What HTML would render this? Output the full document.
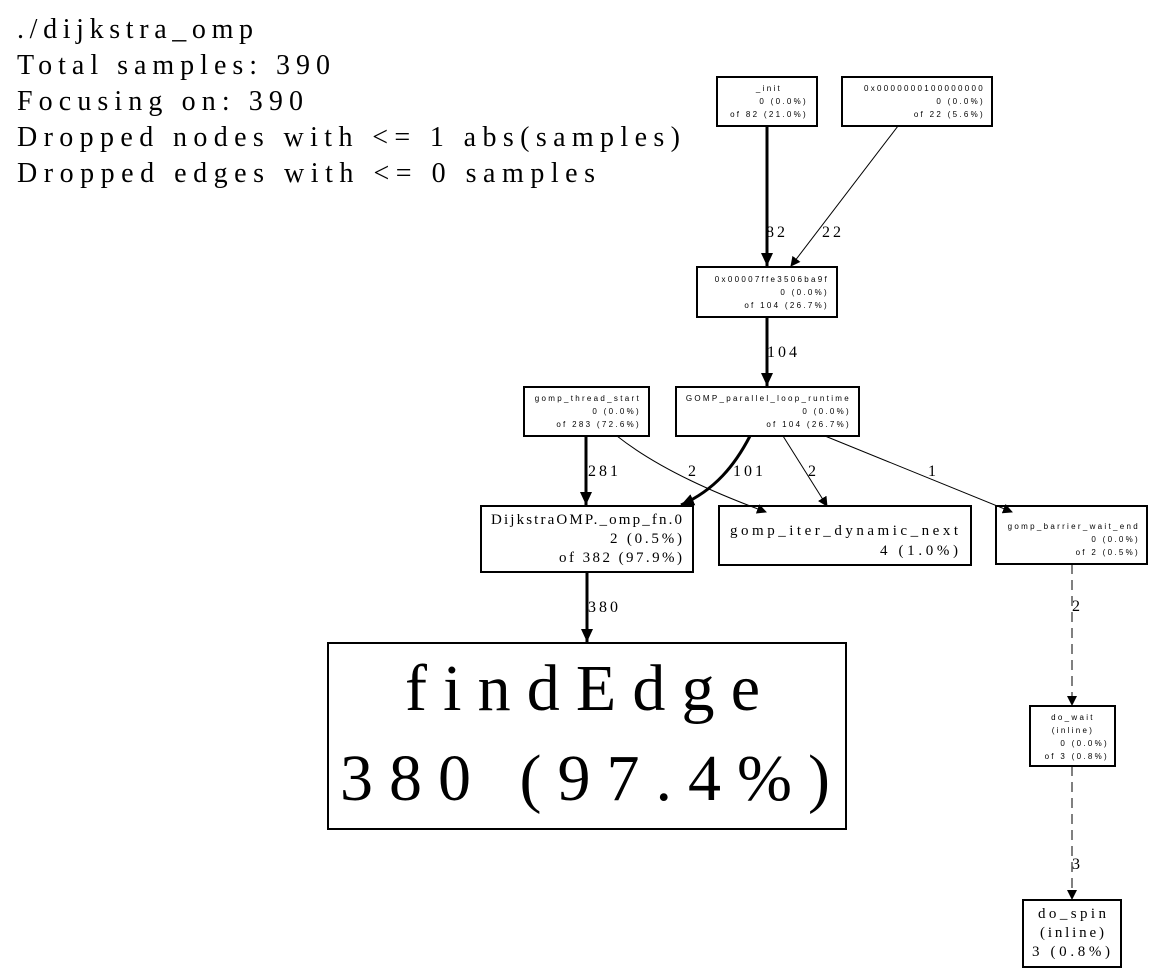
<!DOCTYPE html>
<html><head><style>
html,body{margin:0;padding:0;background:#fff;}
svg{display:block;font-family:"Liberation Serif",serif;}
.s{font-family:"Liberation Sans",sans-serif;font-size:8px;letter-spacing:2.3px;}
</style></head><body>
<svg width="1156" height="975" viewBox="0 0 1156 975" xmlns="http://www.w3.org/2000/svg">
<defs>
<marker id="a" markerWidth="10" markerHeight="10" refX="9" refY="5" orient="auto" markerUnits="userSpaceOnUse"><path d="M0,0 L10,5 L0,10 z" fill="#000"/></marker>
<marker id="b" markerWidth="14" markerHeight="14" refX="13" refY="7" orient="auto" markerUnits="userSpaceOnUse"><path d="M0,1 L13,7 L0,13 z" fill="#000"/></marker>
</defs>
<g font-size="28">
<text x="17" y="38" textLength="236" lengthAdjust="spacing">./dijkstra_omp</text>
<text x="17" y="74" textLength="313" lengthAdjust="spacing">Total samples: 390</text>
<text x="17" y="110" textLength="286" lengthAdjust="spacing">Focusing on: 390</text>
<text x="17" y="146" textLength="663" lengthAdjust="spacing">Dropped nodes with &lt;= 1 abs(samples)</text>
<text x="17" y="182" textLength="578" lengthAdjust="spacing">Dropped edges with &lt;= 0 samples</text>
</g>
<g fill="none" stroke="#000" stroke-width="2">
<rect x="717" y="77" width="100" height="49"/>
<rect x="842" y="77" width="150" height="49"/>
<rect x="697" y="267" width="140" height="50"/>
<rect x="524" y="387" width="125" height="49"/>
<rect x="676" y="387" width="183" height="49"/>
<rect x="481" y="506" width="212" height="66"/>
<rect x="719" y="506" width="252" height="59"/>
<rect x="996" y="506" width="151" height="58"/>
<rect x="328" y="643" width="518" height="186"/>
<rect x="1030" y="706" width="85" height="60"/>
<rect x="1023" y="900" width="98" height="67"/>
</g>
<g stroke="#000" fill="none">
<line x1="767" y1="126" x2="767" y2="266" stroke-width="3" marker-end="url(#b)"/>
<line x1="898" y1="126" x2="791" y2="266" stroke-width="1" marker-end="url(#a)"/>
<line x1="767" y1="317" x2="767" y2="386" stroke-width="3" marker-end="url(#b)"/>
<line x1="586" y1="436" x2="586" y2="505" stroke-width="3" marker-end="url(#b)"/>
<path d="M617,436 C660,470 720,495 766,512" stroke-width="1" marker-end="url(#a)"/>
<path d="M750,436 C735,465 715,490 681,505" stroke-width="3" marker-end="url(#b)"/>
<line x1="783" y1="436" x2="827" y2="506" stroke-width="1" marker-end="url(#a)"/>
<line x1="825" y1="436" x2="1012" y2="512" stroke-width="1" marker-end="url(#a)"/>
<line x1="587" y1="572" x2="587" y2="642" stroke-width="3" marker-end="url(#b)"/>
<line x1="1072" y1="564" x2="1072" y2="705" stroke-width="1" stroke-dasharray="10,6" marker-end="url(#a)"/>
<line x1="1072" y1="766" x2="1072" y2="899" stroke-width="1" stroke-dasharray="10,6" marker-end="url(#a)"/>
</g>
<g font-size="16" letter-spacing="3">
<text x="766" y="237">82</text>
<text x="822" y="237">22</text>
<text x="767" y="357">104</text>
<text x="588" y="476">281</text>
<text x="688" y="476">2</text>
<text x="733" y="476">101</text>
<text x="808" y="476">2</text>
<text x="928" y="476">1</text>
<text x="588" y="612">380</text>
<text x="1072" y="611">2</text>
<text x="1072" y="869">3</text>
</g>
<g class="s" text-anchor="end">
<text x="769" y="91" text-anchor="middle">_init</text>
<text x="808" y="104">0 (0.0%)</text>
<text x="808" y="117">of 82 (21.0%)</text>
<text x="985" y="91">0x0000000100000000</text>
<text x="985" y="104">0 (0.0%)</text>
<text x="985" y="117">of 22 (5.6%)</text>
<text x="829" y="282">0x00007ffe3506ba9f</text>
<text x="829" y="295">0 (0.0%)</text>
<text x="829" y="308">of 104 (26.7%)</text>
<text x="641" y="401">gomp_thread_start</text>
<text x="641" y="414">0 (0.0%)</text>
<text x="641" y="427">of 283 (72.6%)</text>
<text x="851" y="401">GOMP_parallel_loop_runtime</text>
<text x="851" y="414">0 (0.0%)</text>
<text x="851" y="427">of 104 (26.7%)</text>
<text x="1140" y="529">gomp_barrier_wait_end</text>
<text x="1140" y="542">0 (0.0%)</text>
<text x="1140" y="555">of 2 (0.5%)</text>
<text x="1073" y="720" text-anchor="middle">do_wait</text>
<text x="1073" y="733" text-anchor="middle">(inline)</text>
<text x="1109" y="746">0 (0.0%)</text>
<text x="1109" y="759">of 3 (0.8%)</text>
</g>
<g font-size="15" text-anchor="end">
<text x="682" y="524" textLength="191" lengthAdjust="spacing">DijkstraOMP._omp_fn.0</text>
<text x="682" y="543" textLength="72" lengthAdjust="spacing">2 (0.5%)</text>
<text x="682" y="562" textLength="123" lengthAdjust="spacing">of 382 (97.9%)</text>
<text x="958" y="535" textLength="228" lengthAdjust="spacing">gomp_iter_dynamic_next</text>
<text x="958" y="555" textLength="78" lengthAdjust="spacing">4 (1.0%)</text>
</g>
<g font-size="15">
<text x="1038" y="918" textLength="68" lengthAdjust="spacing">do_spin</text>
<text x="1040" y="937" textLength="64" lengthAdjust="spacing">(inline)</text>
<text x="1032" y="956" textLength="78" lengthAdjust="spacing">3 (0.8%)</text>
</g>
<g font-size="66">
<text x="405" y="710" textLength="355" lengthAdjust="spacing">findEdge</text>
<text x="340" y="800" textLength="490" lengthAdjust="spacing">380 (97.4%)</text>
</g>
</svg>
</body></html>
